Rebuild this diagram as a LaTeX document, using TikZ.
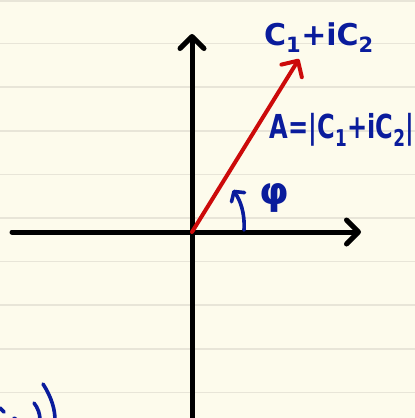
\documentclass[tikz,border=0pt]{standalone}
\usepackage{fontspec}
\usepackage{graphicx}
\setmainfont{DejaVu Sans}
\usetikzlibrary{arrows.meta}
\definecolor{paper}{HTML}{FDFBEC}
\definecolor{rulecol}{HTML}{E8E5D8}
\definecolor{ink}{HTML}{0A1C9C}
\definecolor{redink}{HTML}{CC0A0A}
\begin{document}
\begin{tikzpicture}[x=1pt,y=-1pt,
  barb/.style={-{Straight Barb[length=12pt,width=24pt,line cap=round,line join=round]}},
  axis/.style={line width=5pt,line cap=round,black,barb},
  vec/.style={line width=4pt,line cap=round,redink,barb},
  inkline/.style={line width=3.6pt,line cap=round,ink},
  lab/.style={text=ink,font=\fontsize{30}{30}\selectfont\bfseries,inner sep=0pt}]
\useasboundingbox (0,0) rectangle (415,418);
\fill[paper] (0,0) rectangle (415,418);
\foreach \y in {1,43.6,87.2,130.8,174.4,218,261.6,305.2,348.8,392.4}
  \draw[rulecol,line width=1.6pt] (0,\y) -- (415,\y);
% coordinates
\coordinate (O) at (192,232);
\coordinate (xL) at (12,232);
\coordinate (xR) at (361,232);
\coordinate (yB) at (192,425);
\coordinate (yT) at (192,34);
\coordinate (V) at (299,59);
% axes
\draw[axis] (xL) -- (xR);
\draw[axis] (yB) -- (yT);
% vector
\draw[vec] (O) -- (V);
% angle arrow
\coordinate (a0) at (244,230);
\coordinate (a1) at (233,190);
\draw[inkline,-{Straight Barb[length=7pt,width=16pt,line cap=round,line join=round]}]
  (a0) .. controls (245,212) and (240,200) .. (a1);
% labels
\node[lab] (c) at (319,38) {C$_{\mathbf 1}$+iC$_{\mathbf 2}$};
\node[lab,font=\fontsize{33}{33}\selectfont\bfseries] (A) at (342,130) {\scalebox{0.73}[1]{A=|C$_{\mathbf 1}$+iC$_{\mathbf 2}$|}};
\node[lab,font=\fontsize{38}{38}\selectfont\bfseries] (phi) at (274,198) {φ};
% cut-off handwriting bottom left
\draw[inkline] (43,384) .. controls (52,398) and (55,410) .. (55,420);
\draw[inkline] (34,403) .. controls (38,408) and (40,414) .. (40,420);
\draw[inkline] (0,408) -- (4,412);
\draw[inkline] (14,418) -- (17,420);
\end{tikzpicture}
\end{document}
